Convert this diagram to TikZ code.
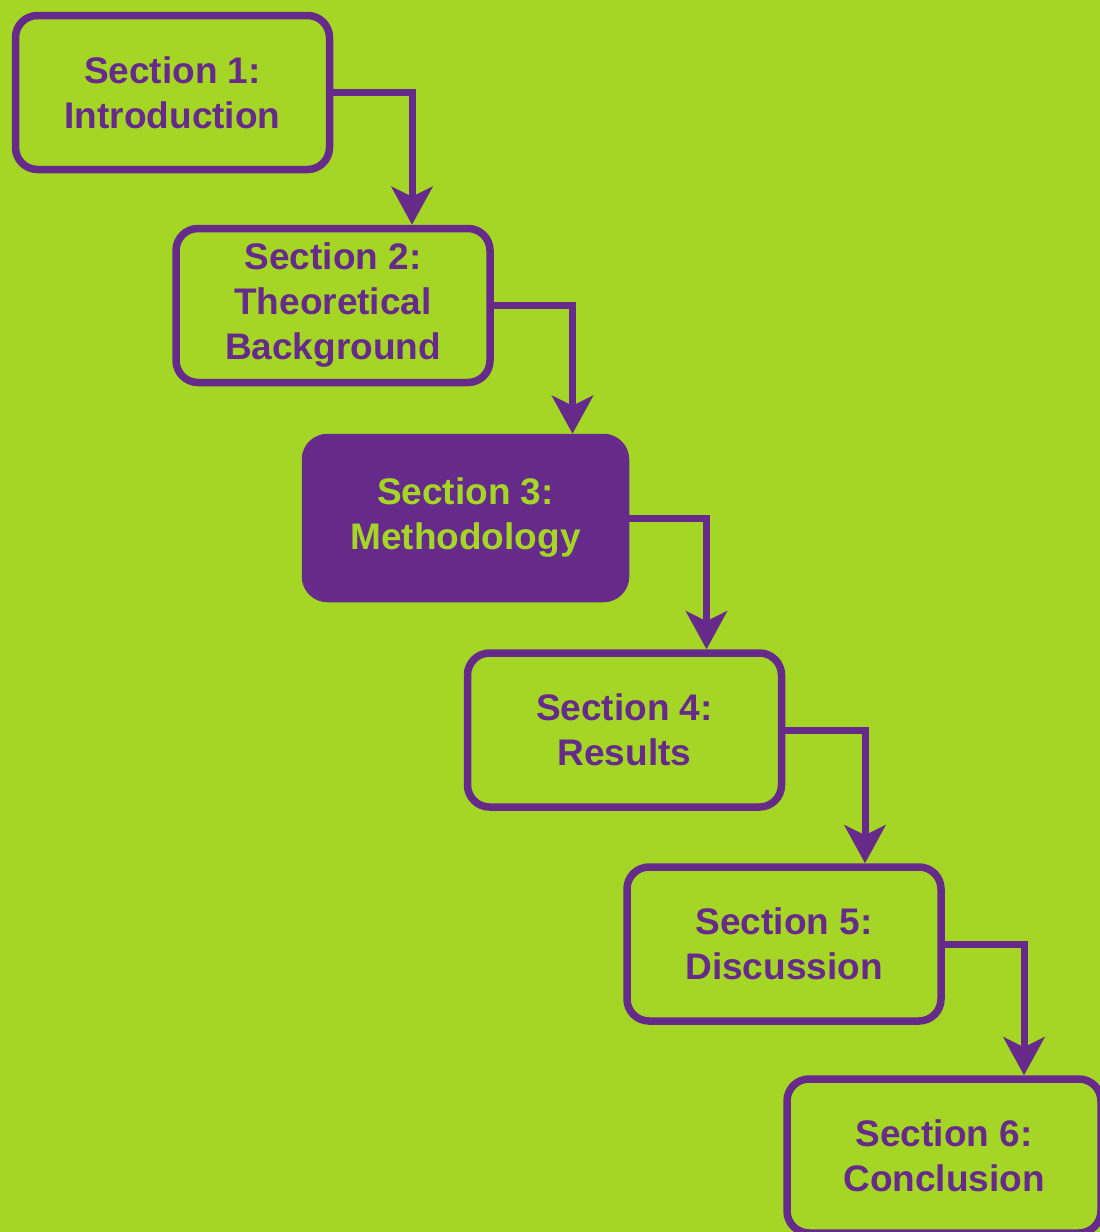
\documentclass[tikz,border=0pt]{standalone}
\usepackage{fontspec}
\setmainfont{Liberation Sans}
\usetikzlibrary{arrows.meta,calc}
\definecolor{bggreen}{RGB}{166,214,37}
\definecolor{purp}{RGB}{102,42,138}
\tikzset{
  secbox/.style={draw=purp, line width=7.5pt, rounded corners=22pt, fill=bggreen,
    minimum width=314pt, minimum height=154pt, inner sep=0pt, align=center,
    text=purp, font=\fontsize{37}{45}\selectfont\bfseries},
  hlbox/.style={secbox, fill=purp, text=bggreen, minimum width=320pt, minimum height=161pt},
  flow/.style={draw=purp, line width=7pt, -{Stealth[length=38pt, width=41pt, inset=10pt]}}
}
\begin{document}
\begin{tikzpicture}[x=1pt,y=-1pt]
\useasboundingbox (0,0) rectangle (1100,1232);
\fill[bggreen] (0,0) rectangle (1100,1232);
\clip (0,0) rectangle (1100,1232);
\node[secbox] (b1) at (172.5,92.5) {Section 1:\\Introduction};
\node[secbox] (b2) at (333,305.5) {Section 2:\\Theoretical\\Background};
\node[hlbox] (b3) at (465.5,518) {Section 3:\\Methodology};
\node[secbox] (b4) at (624.5,730) {Section 4:\\Results};
\node[secbox] (b5) at (784,944) {Section 5:\\Discussion};
\node[secbox] (b6) at (944,1156) {Section 6:\\Conclusion};
\draw[flow] (b1.east) -| ([xshift=79pt]b2.north);
\draw[flow] (b2.east) -| ([xshift=107pt]b3.north);
\draw[flow] (b3.east) -| ([xshift=82pt]b4.north);
\draw[flow] (b4.east) -| ([xshift=81pt]b5.north);
\draw[flow] (b5.east) -| ([xshift=80pt]b6.north);
\end{tikzpicture}
\end{document}
